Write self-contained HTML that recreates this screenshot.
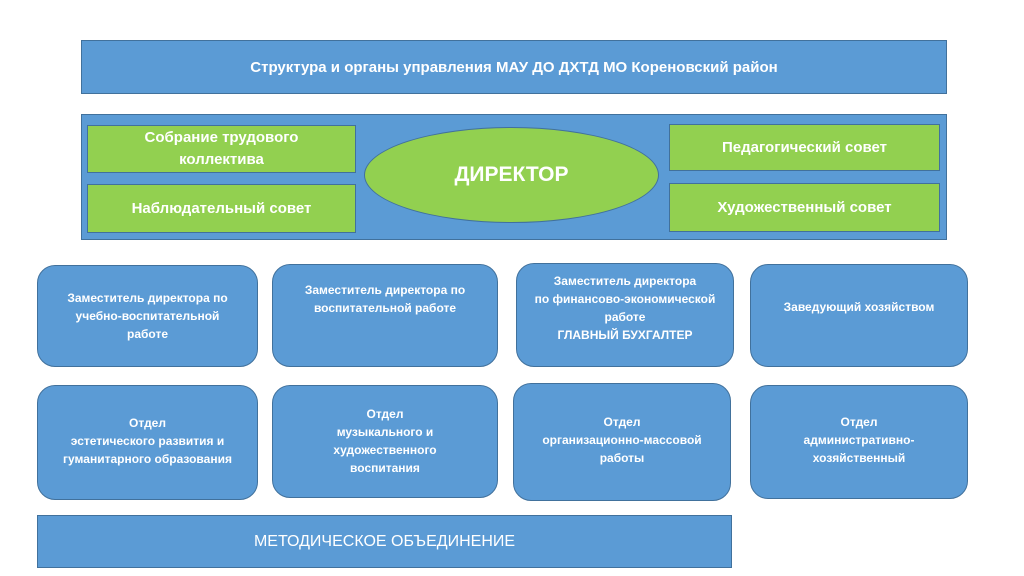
<!DOCTYPE html>
<html><head><meta charset="utf-8"><style>
html,body{margin:0;padding:0;background:#fff;width:1024px;height:576px;overflow:hidden}
.b{position:absolute;box-sizing:border-box;display:flex;align-items:center;justify-content:center;text-align:center;color:#fff;font-family:"Liberation Sans","DejaVu Sans",sans-serif;font-weight:bold;}
.blue{background:#5b9bd5;border:1px solid #41719c}
.green{background:#92d050;border:1px solid #41719c;font-size:15px;line-height:22px}
.r{border-radius:18px;font-size:12px;line-height:18px}
.top{align-items:flex-start}
</style></head><body>
<div class="b blue" style="left:81px;top:40px;width:866px;height:54px;font-size:15px">Структура и органы управления МАУ ДО ДХТД МО Кореновский район</div>
<div class="b blue" style="left:81px;top:114px;width:866px;height:126px"></div>
<div class="b green" style="left:87px;top:125px;width:269px;height:48px">Собрание трудового<br>коллектива</div>
<div class="b green" style="left:87px;top:184px;width:269px;height:49px">Наблюдательный совет</div>
<div class="b green" style="left:669px;top:124px;width:271px;height:47px">Педагогический совет</div>
<div class="b green" style="left:669px;top:183px;width:271px;height:49px">Художественный совет</div>
<div class="b green" style="left:364px;top:127px;width:295px;height:96px;border-radius:50%;font-size:21px">ДИРЕКТОР</div>

<div class="b blue r" style="left:37px;top:265px;width:221px;height:102px">Заместитель директора по<br>учебно-воспитательной<br>работе</div>
<div class="b blue r top" style="left:272px;top:264px;width:226px;height:103px;padding-top:16px">Заместитель директора по<br>воспитательной работе</div>
<div class="b blue r" style="left:516px;top:263px;width:218px;height:104px;padding-bottom:14px">Заместитель директора<br>по финансово-экономической<br>работе<br>ГЛАВНЫЙ БУХГАЛТЕР</div>
<div class="b blue r" style="left:750px;top:264px;width:218px;height:103px;padding-bottom:18px">Заведующий хозяйством</div>

<div class="b blue r" style="left:37px;top:385px;width:221px;height:115px;padding-bottom:4px">Отдел<br>эстетического развития и<br>гуманитарного образования</div>
<div class="b blue r" style="left:272px;top:385px;width:226px;height:113px;padding-bottom:2px">Отдел<br>музыкального и<br>художественного<br>воспитания</div>
<div class="b blue r" style="left:513px;top:383px;width:218px;height:118px;padding-bottom:4px">Отдел<br>организационно-массовой<br>работы</div>
<div class="b blue r" style="left:750px;top:385px;width:218px;height:114px;padding-bottom:4px">Отдел<br>административно-<br>хозяйственный</div>

<div class="b blue" style="left:37px;top:515px;width:695px;height:53px;font-size:16px;font-weight:normal">МЕТОДИЧЕСКОЕ ОБЪЕДИНЕНИЕ</div>
</body></html>
